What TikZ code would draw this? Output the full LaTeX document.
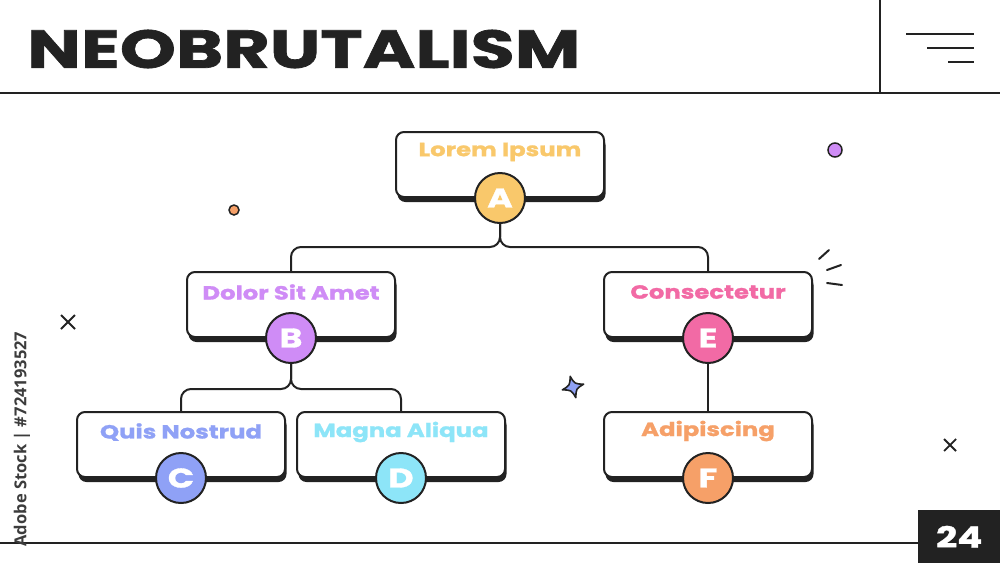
\documentclass[tikz,border=0pt]{standalone}
\usepackage{fontspec}
\usepackage{graphicx}
\setmainfont{Poppins}[FakeStretch=1.15]
\newfontfamily\heavy{Poppins}[FakeStretch=1.28, BoldFeatures={FakeBold=1.3}]
\newfontfamily\wmfont{Open Sans}
\usetikzlibrary{calc,shadows}
\definecolor{inkc}{HTML}{222222}
\definecolor{yelc}{HTML}{F9C86B}
\definecolor{purc}{HTML}{CF8CF6}
\definecolor{pinc}{HTML}{F26AA5}
\definecolor{bluc}{HTML}{8FA1F6}
\definecolor{cyac}{HTML}{8DE5F8}
\definecolor{orac}{HTML}{F6A068}
\definecolor{wmc}{HTML}{3C3C3C}
\begin{document}
\begin{tikzpicture}[x=1pt,y=-1pt,
  ink/.style={draw=inkc, line width=2pt},
  box/.style={draw=inkc, line width=2pt, fill=white, rounded corners=8pt,
    minimum width=208pt, minimum height=65pt, inner sep=0,
    drop shadow={shadow xshift=1.5pt, shadow yshift=-5pt, opacity=1, fill=inkc}},
  lbl/.style={inner sep=0, font=\heavy\bfseries\fontsize{19}{19}\selectfont},
  circ/.style={circle, draw=inkc, line width=2pt, minimum size=50pt, inner sep=0,
    text=white, font=\heavy\bfseries\fontsize{27}{27}\selectfont},
  conn/.style={draw=inkc, line width=2pt, rounded corners=10pt},
  xmark/.style={draw=inkc, line width=1.8pt},
  dot/.style={circle, draw=inkc, line width=1.5pt, inner sep=0}
]
\useasboundingbox (0,0) rectangle (1000,563);
\fill[white] (0,0) rectangle (1000,563);

% header
\draw[ink] (0,93) -- (1000,93);
\draw[ink] (880,0) -- (880,93);
\node[anchor=west, inner sep=0, text=inkc] (title) at (27,49)
  {\resizebox{553pt}{38pt}{\heavy\bfseries NEOBRUTALISM}};
\coordinate (m1a) at (906,34); \coordinate (m1b) at (974,34);
\coordinate (m2a) at (927,48); \coordinate (m2b) at (974,48);
\coordinate (m3a) at (948,62); \coordinate (m3b) at (974,62);
\draw[ink] (m1a) -- (m1b);
\draw[ink] (m2a) -- (m2b);
\draw[ink] (m3a) -- (m3b);

% footer
\node[fill=inkc, minimum width=82pt, minimum height=53pt, inner sep=0, anchor=north west] (pg) at (918,510) {};
\node[text=white, inner sep=0, font=\heavy\bfseries\fontsize{29}{29}\selectfont] (pgnum) at (pg.center) {24};
\coordinate (fl) at (0,543);
\draw[ink] (fl) -- (fl -| pg.west);

% watermark id
\node[rotate=90, text=wmc, inner sep=0, font=\wmfont\bfseries\fontsize{16.5}{16.5}\selectfont] (wm) at (22,439) {Adobe Stock | \#724193527};

% boxes
\node[box] (bA) at (500,164.5) {};
\node[box] (bB) at (291,304.5) {};
\node[box] (bE) at (708,304.5) {};
\node[box] (bC) at (181,444.5) {};
\node[box] (bD) at (401,444.5) {};
\node[box] (bF) at (708,444.5) {};

\node[lbl, text=yelc] (tA) at (500,152) {Lorem Ipsum};
\node[lbl, text=purc] (tB) at (291,292) {Dolor Sit Amet};
\node[lbl, text=pinc] (tE) at (708,292) {Consectetur};
\node[lbl, text=bluc] (tC) at (181,432) {Quis Nostrud};
\node[lbl, text=cyac] (tD) at (401,432) {Magna Aliqua};
\node[lbl, text=orac] (tF) at (708,431) {Adipiscing};

\node[circ, fill=yelc] (cA) at (bA.south) {A};
\node[circ, fill=purc] (cB) at (bB.south) {B};
\node[circ, fill=pinc] (cE) at (bE.south) {E};
\node[circ, fill=bluc] (cC) at (bC.south) {C};
\node[circ, fill=cyac] (cD) at (bD.south) {D};
\node[circ, fill=orac] (cF) at (bF.south) {F};

% connectors
\draw[conn] (bB.north) |- ($(cA.south)+(0,23)$) -- (cA.south);
\draw[conn] (bE.north) |- ($(cA.south)+(0,23)$) -- (cA.south);
\draw[conn] (bC.north) |- ($(cB.south)+(0,25)$) -- (cB.south);
\draw[conn] (bD.north) |- ($(cB.south)+(0,25)$) -- (cB.south);
\draw[conn] (cE.south) -- (bF.north);

% decorations
\node[dot, fill=purc, minimum size=14pt] (d1) at (835,150) {};
\node[dot, fill=orac, minimum size=10pt] (d2) at (234,210) {};
\coordinate (x1) at (68,322);
\draw[xmark] ($(x1)+(-7,-7)$) -- ($(x1)+(7,7)$) ($(x1)+(-7,7)$) -- ($(x1)+(7,-7)$);
\coordinate (x2) at (950,445);
\draw[xmark] ($(x2)+(-6,-6)$) -- ($(x2)+(6,6)$) ($(x2)+(-6,6)$) -- ($(x2)+(6,-6)$);
\draw[ink, line cap=round] (819,259) -- (829,250);
\draw[ink, line cap=round] (827,270) -- (841,265);
\draw[ink, line cap=round] (827,283) -- (842,285);
% sparkle
\coordinate (sc) at (573,387);
\draw[draw=inkc, fill=bluc, line width=1.6pt, line join=round, rotate around={15:(sc)}]
  ($(sc)+(0,-11)$) .. controls ($(sc)+(2.5,-2.5)$) .. ($(sc)+(11,0)$)
  .. controls ($(sc)+(2.5,2.5)$) .. ($(sc)+(0,11)$)
  .. controls ($(sc)+(-2.5,2.5)$) .. ($(sc)+(-11,0)$)
  .. controls ($(sc)+(-2.5,-2.5)$) .. cycle;
\end{tikzpicture}
\end{document}
